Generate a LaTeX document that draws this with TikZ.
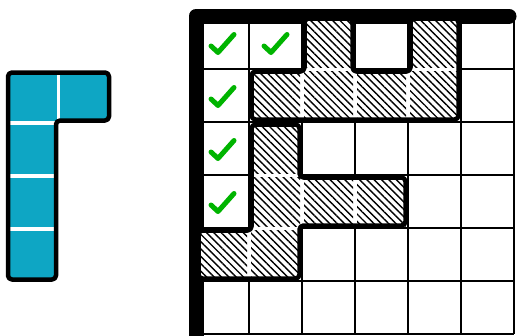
\documentclass[tikz,border=0pt]{standalone}
\usetikzlibrary{patterns.meta}
\definecolor{pieceblue}{RGB}{14,166,196}
\definecolor{checkgreen}{RGB}{0,180,0}
\tikzset{
  gridline/.style={draw=black,line width=1.4pt},
  frameline/.style={draw=black,line width=15pt,line cap=round,line join=round},
  pieceline/.style={draw=black,line width=4.5pt,rounded corners=4pt,line join=round},
  hatchcell/.style={pattern={Lines[angle=-45,distance=5.2pt,line width=1.4pt]}},
  seam/.style={draw=white,line width=3.5pt},
  checkmark/.style={draw=checkgreen,line width=5pt,line cap=round,line join=round}
}
\begin{document}
\begin{tikzpicture}[x=1pt,y=-1pt]
\useasboundingbox (0,0) rectangle (518,335);
\clip (0,0) rectangle (518,335);
% grid
\foreach \i in {0,...,6} {
  \draw[gridline] ({196+53*\i},16) -- ({196+53*\i},334);
  \draw[gridline] (196,{16+53*\i}) -- (514,{16+53*\i});
}
% thick frame
\coordinate (fb) at (196,350);
\coordinate (fc) at (196,16);
\coordinate (fe) at (509,16);
\draw[frameline] (fb) -- (fc) -- (fe);
% blue piece
\fill[pieceblue,rounded corners=4pt] (8,72.5) -- (109,72.5) -- (109,120.5) -- (56,120.5) -- (56,279.5) -- (8,279.5) -- cycle;
\draw[seam] (58.5,72.5) -- (58.5,120.5);
\foreach \y in {123,176,229} { \draw[seam] (8,\y) -- (56,\y); }
\draw[pieceline] (8,72.5) -- (109,72.5) -- (109,120.5) -- (56,120.5) -- (56,279.5) -- (8,279.5) -- cycle;
% hatched piece A
\def\d{2.5}
\fill[white,rounded corners=4pt] (249+\d,69+\d) -- (302+\d,69+\d) -- (302+\d,16+\d) -- (355-\d,16+\d) -- (355-\d,69+\d) -- (408+\d,69+\d) -- (408+\d,16+\d) -- (461-\d,16+\d) -- (461-\d,122-\d) -- (249+\d,122-\d) -- cycle;
\foreach \r/\c in {0/2,0/4,1/1,1/2,1/3,1/4} {
  \fill[hatchcell] ({196+53*\c+2},{16+53*\r+2}) rectangle ++(49,49);
}
\draw[pieceline] (249+\d,69+\d) -- (302+\d,69+\d) -- (302+\d,16+\d) -- (355-\d,16+\d) -- (355-\d,69+\d) -- (408+\d,69+\d) -- (408+\d,16+\d) -- (461-\d,16+\d) -- (461-\d,122-\d) -- (249+\d,122-\d) -- cycle;
% hatched piece B
\fill[white,rounded corners=4pt] (249+\d,122+\d) -- (302-\d,122+\d) -- (302-\d,175+\d) -- (408-\d,175+\d) -- (408-\d,228-\d) -- (302-\d,228-\d) -- (302-\d,281-\d) -- (196+\d,281-\d) -- (196+\d,228+\d) -- (249+\d,228+\d) -- cycle;
\foreach \r/\c in {2/1,3/1,3/2,3/3,4/0,4/1} {
  \fill[hatchcell] ({196+53*\c+2},{16+53*\r+2}) rectangle ++(49,49);
}
\draw[pieceline] (249+\d,122+\d) -- (302-\d,122+\d) -- (302-\d,175+\d) -- (408-\d,175+\d) -- (408-\d,228-\d) -- (302-\d,228-\d) -- (302-\d,281-\d) -- (196+\d,281-\d) -- (196+\d,228+\d) -- (249+\d,228+\d) -- cycle;
% checks
\foreach \r/\c in {0/0,0/1,1/0,2/0,3/0} {
  \pgfmathsetmacro{\cx}{196+53*\c+26.5}
  \pgfmathsetmacro{\cy}{16+53*\r+26.5}
  \draw[checkmark] (\cx-11.5,\cy+3.5) -- (\cx-4.5,\cy+10) -- (\cx+11.5,\cy-8);
}
\end{tikzpicture}
\end{document}
